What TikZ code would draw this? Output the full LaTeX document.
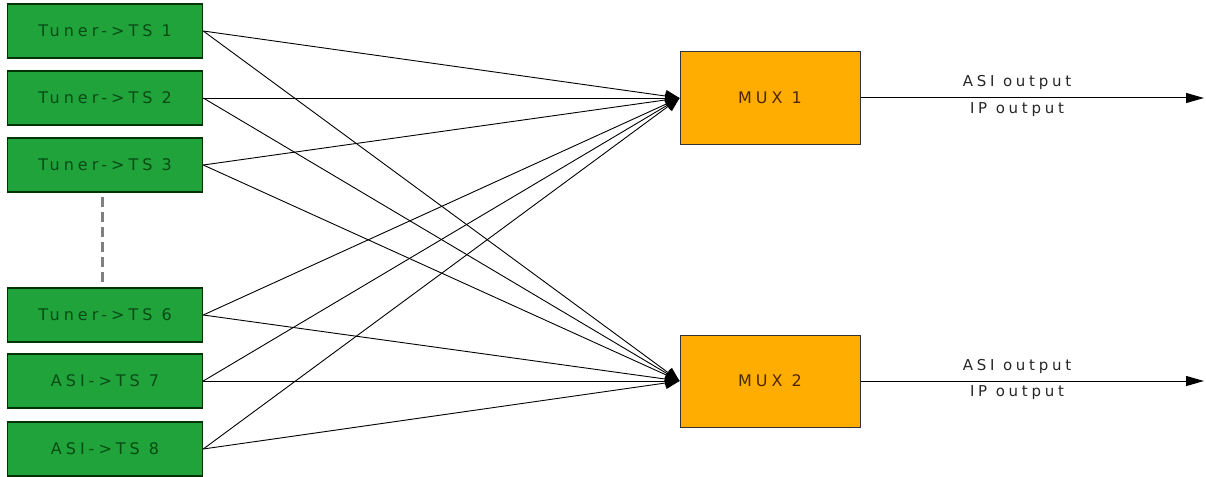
\documentclass[tikz,border=0pt]{standalone}
\usepackage{fontspec}
\setmainfont{DejaVu Sans}
\newfontfamily\spfont[LetterSpace=25]{DejaVu Sans}
\usetikzlibrary{arrows.meta}
\definecolor{boxgreen}{RGB}{31,163,58}
\definecolor{boxgreentext}{RGB}{8,75,20}
\definecolor{muxorange}{RGB}{255,173,0}
\definecolor{muxtext}{RGB}{80,40,0}
\begin{document}
\begin{tikzpicture}[x=1pt,y=-1pt,
  inbox/.style={draw=black!80!green,line width=1.5pt,fill=boxgreen,minimum width=195pt,minimum height=54pt,inner sep=0pt,text=boxgreentext,font=\spfont\fontsize{16}{18}\selectfont},
  muxbox/.style={draw=black!80,line width=1pt,fill=muxorange,minimum width=180pt,minimum height=92pt,inner sep=0pt,text=muxtext,font=\spfont\fontsize{16}{18}\selectfont},
  conn/.style={draw=black,line width=0.9pt,-{Triangle[length=14pt,width=12pt]}},
  outarrow/.style={draw=black,line width=1pt,-{Triangle[length=18pt,width=10pt]}},
  lbl/.style={font=\spfont\fontsize{15}{17}\selectfont,text=black!85,inner sep=1pt}]
\useasboundingbox (0,0) rectangle (1206,476);
\node[inbox] (t1) at (105,31) {Tuner->TS 1};
\node[inbox] (t2) at (105,98) {Tuner->TS 2};
\node[inbox] (t3) at (105,165) {Tuner->TS 3};
\node[inbox] (t6) at (105,315) {Tuner->TS 6};
\node[inbox] (a7) at (105,381) {ASI->TS 7};
\node[inbox] (a8) at (105,449) {ASI->TS 8};
\node[muxbox] (m1) at (770,98) {MUX 1};
\node[muxbox] (m2) at (770,381) {MUX 2};
\coordinate (d1) at (102,197);
\coordinate (d2) at (102,284);
\draw[gray,line width=3pt,dash pattern=on 10pt off 5pt] (d1) -- (d2);
\foreach \s in {t1,t2,t3,t6,a7,a8}{
  \draw[conn] (\s.east) -- (m1.west);
  \draw[conn] (\s.east) -- (m2.west);
}
\coordinate (o1) at (1204,98);
\coordinate (o2) at (1204,381);
\draw[outarrow] (m1.east) -- (o1);
\draw[outarrow] (m2.east) -- (o2);
\node[lbl] (l1a) at (1017,82) {ASI output};
\node[lbl] (l1b) at (1017,110) {IP output};
\node[lbl] (l2a) at (1017,366) {ASI output};
\node[lbl] (l2b) at (1017,393) {IP output};
\end{tikzpicture}
\end{document}
